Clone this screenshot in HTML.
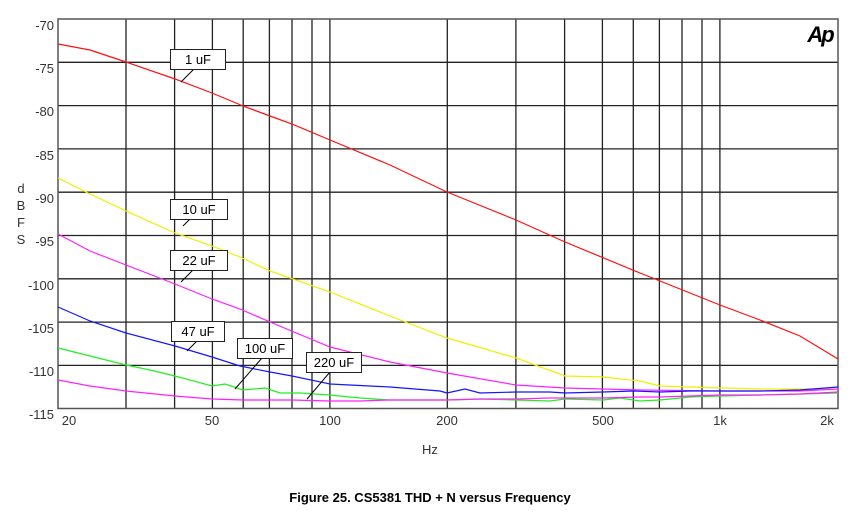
<!DOCTYPE html>
<html><head><meta charset="utf-8"><style>
html,body{margin:0;padding:0;background:#fff}
svg{display:block;font-family:"Liberation Sans",Arial,sans-serif}
</style></head><body>
<svg width="860" height="528" viewBox="0 0 860 528" xmlns="http://www.w3.org/2000/svg">
<rect width="860" height="528" fill="#fff"/>
<g stroke="#222" stroke-width="1.3" fill="none">
<line x1="58" y1="62.3" x2="838" y2="62.3"/>
<line x1="58" y1="105.6" x2="838" y2="105.6"/>
<line x1="58" y1="148.9" x2="838" y2="148.9"/>
<line x1="58" y1="192.2" x2="838" y2="192.2"/>
<line x1="58" y1="235.5" x2="838" y2="235.5"/>
<line x1="58" y1="278.8" x2="838" y2="278.8"/>
<line x1="58" y1="322.1" x2="838" y2="322.1"/>
<line x1="58" y1="365.4" x2="838" y2="365.4"/>
<line x1="126" y1="19" x2="126" y2="408.5"/>
<line x1="174.6" y1="19" x2="174.6" y2="408.5"/>
<line x1="212.4" y1="19" x2="212.4" y2="408.5"/>
<line x1="243.2" y1="19" x2="243.2" y2="408.5"/>
<line x1="269.4" y1="19" x2="269.4" y2="408.5"/>
<line x1="292.0" y1="19" x2="292.0" y2="408.5"/>
<line x1="312.0" y1="19" x2="312.0" y2="408.5"/>
<line x1="329.9" y1="19" x2="329.9" y2="408.5"/>
<line x1="447.3" y1="19" x2="447.3" y2="408.5"/>
<line x1="515.9" y1="19" x2="515.9" y2="408.5"/>
<line x1="564.6" y1="19" x2="564.6" y2="408.5"/>
<line x1="602.4" y1="19" x2="602.4" y2="408.5"/>
<line x1="633.3" y1="19" x2="633.3" y2="408.5"/>
<line x1="659.4" y1="19" x2="659.4" y2="408.5"/>
<line x1="682.0" y1="19" x2="682.0" y2="408.5"/>
<line x1="702.0" y1="19" x2="702.0" y2="408.5"/>
<line x1="719.9" y1="19" x2="719.9" y2="408.5"/>
</g>
<rect x="58" y="19" width="780" height="389.5" fill="none" stroke="#555" stroke-width="1.5"/>
<g fill="none" stroke-width="1.2">
<polyline stroke="#ff1010" points="58,44 90,50 126,62 175,79 212,93 243,106 270,116 292,124 330,140 390,165 447,192 516,220 565,242 640,273 720,305 760,320 800,336 838,359"/>
<polyline stroke="#f0f000" points="58,178 90,194 126,211 175,233 212,246 240,257 270,271 330,292 390,316 447,338 516,358 565,376 603,377 640,381 660,386 720,388 760,389 838,389"/>
<polyline stroke="#ff20ff" points="58,234 90,251 126,265 175,284 212,299 240,309 270,322 330,347 390,362 447,373 516,385 565,388 640,390 720,391 760,391 800,391 838,389"/>
<polyline stroke="#1515ff" points="58,307 90,321 126,333 175,346 212,357 240,366 270,372 292,376 330,384 390,387 440,391 447,393 465,389 480,393 516,392 550,392 565,393 603,392 633,391 660,392 690,391 720,391 760,391 800,390 838,387"/>
<polyline stroke="#20f020" points="58,348 90,356 126,365 150,370 175,376 212,386 225,384 243,390 265,388 280,393 300,393 330,395 360,398 390,400 420,400 447,400 480,399 516,400 550,401 565,399 603,400 620,398 640,401 660,400 690,397 720,396 760,395 800,394 838,393"/>
<polyline stroke="#ff20ff" points="58,380 90,386 126,391 175,396 212,399 243,400 270,400 292,400 330,401 360,401 390,400 420,400 447,400 480,399 516,399 550,398 565,398 603,398 640,397 660,397 690,396 720,395 760,395 800,394 838,392"/>
</g>
<g stroke="#000" stroke-width="1" fill="none">
<line x1="194" y1="69" x2="181" y2="82"/>
<line x1="190" y1="219" x2="183" y2="226"/>
<line x1="193" y1="270" x2="181" y2="282"/>
<line x1="197" y1="341" x2="187" y2="351"/>
<line x1="262" y1="358" x2="235" y2="389"/>
<line x1="330" y1="372" x2="307" y2="399"/>
</g>
<g font-size="13" fill="#000">
<rect x="170.5" y="49.5" width="55" height="20" fill="#fff" stroke="#222"/><text x="198" y="64" text-anchor="middle">1 uF</text>
<rect x="170.5" y="199.5" width="57" height="20" fill="#fff" stroke="#222"/><text x="199" y="214" text-anchor="middle">10 uF</text>
<rect x="170.5" y="250.5" width="57" height="20" fill="#fff" stroke="#222"/><text x="199" y="265" text-anchor="middle">22 uF</text>
<rect x="171.5" y="321.5" width="53" height="20" fill="#fff" stroke="#222"/><text x="198" y="336" text-anchor="middle">47 uF</text>
<rect x="237.5" y="338.5" width="55" height="20" fill="#fff" stroke="#222"/><text x="265" y="353" text-anchor="middle">100 uF</text>
<rect x="306.5" y="352.5" width="55" height="20" fill="#fff" stroke="#222"/><text x="334" y="367" text-anchor="middle">220 uF</text>
</g>
<g font-size="13" fill="#333" text-anchor="end">
<text x="54" y="30">-70</text><text x="54" y="73">-75</text><text x="54" y="116">-80</text>
<text x="54" y="160">-85</text><text x="54" y="203">-90</text><text x="54" y="246">-95</text>
<text x="54" y="290">-100</text><text x="54" y="333">-105</text><text x="54" y="376">-110</text>
<text x="54" y="419">-115</text>
</g>
<g font-size="13" fill="#333" text-anchor="middle">
<text x="69" y="425">20</text><text x="212" y="425">50</text><text x="330" y="425">100</text>
<text x="447" y="425">200</text><text x="603" y="425">500</text><text x="720" y="425">1k</text>
<text x="827" y="425">2k</text>
<text x="430" y="454">Hz</text>
<text x="21" y="193">d</text><text x="21" y="210">B</text><text x="21" y="227">F</text><text x="21" y="244">S</text>
</g>
<text x="820" y="42" font-size="22" font-weight="bold" font-style="italic" text-anchor="middle" fill="#000" letter-spacing="-2">Ap</text>
<text x="430" y="502" font-size="13" font-weight="bold" text-anchor="middle" fill="#000">Figure 25.  CS5381 THD + N versus Frequency</text>
</svg>
</body></html>
